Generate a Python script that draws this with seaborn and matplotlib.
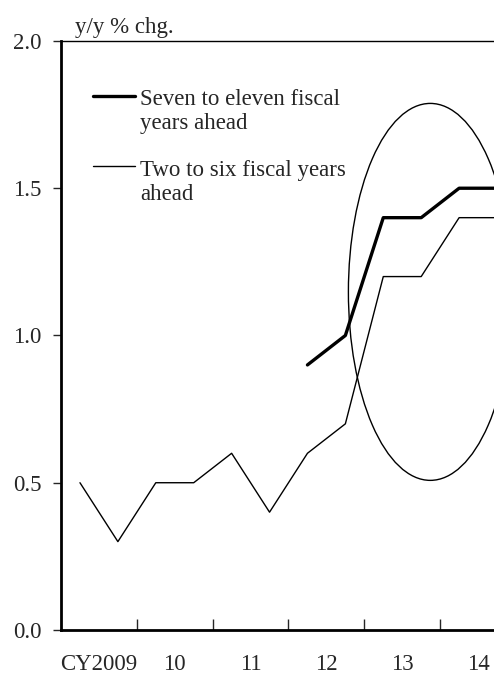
import pandas as pd
import matplotlib.pyplot as plt
import seaborn as sns
from matplotlib.patches import Ellipse
from matplotlib.ticker import FixedLocator, NullFormatter, FormatStrFormatter

# half-year observation points (fraction of calendar year)
periods = [2009.25, 2009.75, 2010.25, 2010.75, 2011.25, 2011.75,
           2012.25, 2012.75, 2013.25, 2013.75, 2014.25, 2014.75]
two_to_six = [0.5, 0.3, 0.5, 0.5, 0.6, 0.4, 0.6, 0.7, 1.2, 1.2, 1.4, 1.4]
seven_to_eleven = [None, None, None, None, None, None, 0.9, 1.0, 1.4, 1.4, 1.5, 1.5]

year_labels = ['CY2009', '10', '11', '12', '13', '14']
year_centers = [2009.5, 2010.5, 2011.5, 2012.5, 2013.5, 2014.5]
year_bounds = [2010, 2011, 2012, 2013, 2014]

df = pd.DataFrame({'period': periods, 'two': two_to_six, 'seven': seven_to_eleven})

sns.set_style('ticks')
plt.rcParams['font.family'] = ['Liberation Serif', 'DejaVu Serif']
fs = 16.5

fig = plt.figure(figsize=(4.94, 6.75), dpi=100)
ax = fig.add_axes([0.1235, 0.0667, 0.921, 0.8726])

sns.lineplot(data=df, x='period', y='two', color='black', linewidth=1.0, ax=ax)
sns.lineplot(data=df.dropna(), x='period', y='seven', color='black', linewidth=2.4, ax=ax)

# highlight ellipse
ax.add_patch(Ellipse((2013.87, 1.148), 2.16, 1.28, fill=False, edgecolor='black', linewidth=1.0))

ax.set_xlim(2009, 2015)
ax.set_ylim(0, 2.0)
ax.set_yticks([0, 0.5, 1.0, 1.5, 2.0])
ax.yaxis.set_major_formatter(FormatStrFormatter('%.1f'))
ax.tick_params(axis='y', direction='out', length=6, width=1, labelsize=fs, pad=8)

ax.xaxis.set_major_locator(FixedLocator(year_bounds))
ax.xaxis.set_major_formatter(NullFormatter())
ax.xaxis.set_minor_locator(FixedLocator(year_centers))
ax.set_xticklabels(year_labels, minor=True)
ax.tick_params(axis='x', which='major', direction='in', length=8, width=1)
ax.tick_params(axis='x', which='minor', length=0, labelsize=fs, pad=17)

ax.set_xlabel('')
ax.set_ylabel('')
ax.spines['left'].set_linewidth(2)
ax.spines['bottom'].set_linewidth(2)
ax.spines['top'].set_linewidth(1)
for sp in ax.spines.values():
    sp.set_color('black')

# legend drawn by hand so the handle sits on the first text line
ax.plot([0.070, 0.163], [0.907, 0.907], transform=ax.transAxes, color='black', linewidth=2.4)
ax.plot([0.070, 0.163], [0.788, 0.788], transform=ax.transAxes, color='black', linewidth=1.0)
ax.text(0.174, 0.851, 'Seven to eleven fiscal\nyears ahead', transform=ax.transAxes,
        fontsize=fs, va='baseline', ha='left', linespacing=1.2)
ax.text(0.174, 0.730, 'Two to six fiscal years\nahead', transform=ax.transAxes,
        fontsize=fs, va='baseline', ha='left', linespacing=1.2)

fig.text(75 / 494, 1 - 27 / 675, 'y/y % chg.', fontsize=fs, va='center', ha='left')

plt.savefig('out.png', dpi=100)
